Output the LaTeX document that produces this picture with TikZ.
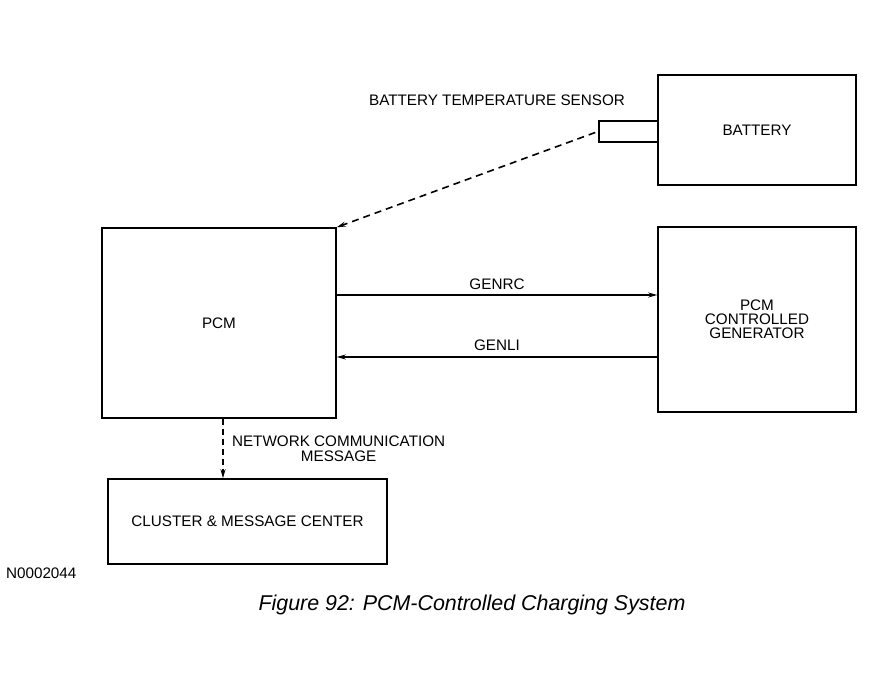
\documentclass[tikz,border=0pt]{standalone}
\usepackage{fontspec}
\setmainfont{Liberation Sans}
\usetikzlibrary{calc,arrows.meta}
\begin{document}
\begin{tikzpicture}[x=1bp, y=-1bp, line width=1.5bp,
    font=\fontsize{15.3}{15}\selectfont,
    box/.style={draw, rectangle, inner sep=0pt, align=center},
    sig/.style={-{Stealth[length=9bp, width=5bp]}, line width=1.3bp},
    link/.style={sig, line width=1.6bp, dash pattern=on 7bp off 5bp}]
\useasboundingbox (0,0) rectangle (892,684);
    \node [box, minimum width=198bp, minimum height=110bp] (bat) at (757,130) {BATTERY};
    \node [box, minimum width=59bp, minimum height=21bp] (sens) at (628.5,131.5) {};
    \node [box, minimum width=198bp, minimum height=185bp,
           font=\fontsize{15.3}{14}\selectfont] (gen) at (757,319.5) {PCM\\CONTROLLED\\GENERATOR};
    \node [box, minimum width=234bp, minimum height=190bp] (pcm) at (219,323) {PCM};
    \node [box, minimum width=279bp, minimum height=85bp] (clus) at (247.5,521.5) {CLUSTER \& MESSAGE CENTER};
    \node (senslbl) at (497,100) {BATTERY TEMPERATURE SENSOR};
    % signals
    \draw [link] ($(sens.west)+(-3,1)$) -- (pcm.north east);
    \draw [sig] ($(pcm.east)+(0,-28)$) coordinate (rc) -- (rc -| gen.west)
        node [midway, above=1bp] (rclbl) {GENRC};
    \draw [sig] ($(pcm.east)+(0,34)$) coordinate (li) (li -| gen.west) -- (li)
        node [midway, above=2bp] (lilbl) {GENLI};
    \draw [link, dash pattern=on 6bp off 4bp] ($(pcm.south)+(4,0)$) coordinate (nc) -- (nc |- clus.north);
    \node [anchor=west, align=center] (nclbl) at (228,449) {NETWORK COMMUNICATION\\MESSAGE};
    \node [anchor=west] (figno) at (2,573) {N0002044};
    \node [font=\fontsize{21.5}{24}\selectfont\itshape] (cap) at (472,605) {Figure 92: PCM-Controlled Charging System};
\end{tikzpicture}
\end{document}
